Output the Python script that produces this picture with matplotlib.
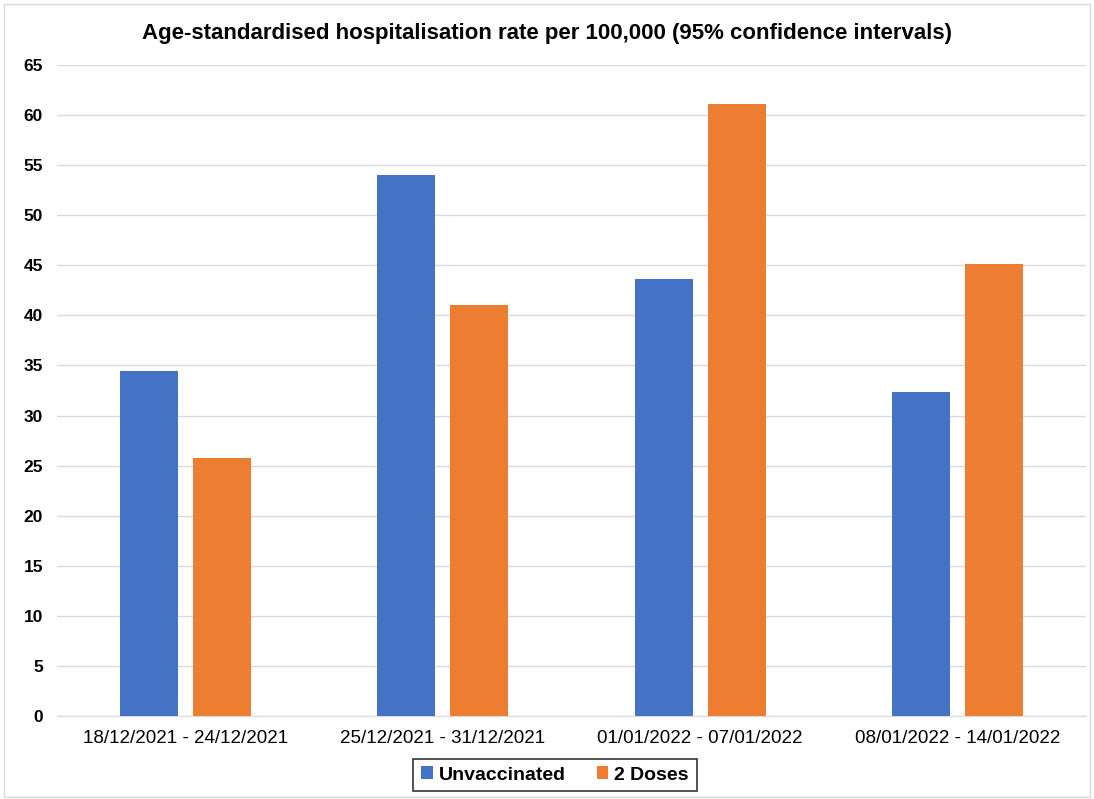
import numpy as np
import matplotlib
matplotlib.use('Agg')
import matplotlib.pyplot as plt
from matplotlib.patches import Rectangle

plt.rcParams['font.family'] = ['Liberation Sans', 'DejaVu Sans']

periods = ['18/12/2021 - 24/12/2021', '25/12/2021 - 31/12/2021',
           '01/01/2022 - 07/01/2022', '08/01/2022 - 14/01/2022']
unvaccinated = [34.4, 54.0, 43.6, 32.4]
two_doses = [25.8, 41.0, 61.1, 45.1]
y_ticks = list(range(0, 70, 5))

blue = '#4472C4'
orange = '#ED7D31'

fig = plt.figure(figsize=(10.94, 7.99), dpi=100)
ax = fig.add_axes([57 / 1094, 1 - 716 / 799, (1086 - 57) / 1094, (716 - 65) / 799])

x = np.arange(len(periods))
w = 0.225
off = 0.142
ax.bar(x - off, unvaccinated, w, color=blue, label='Unvaccinated', zorder=3)
ax.bar(x + off, two_doses, w, color=orange, label='2 Doses', zorder=3)

ax.set_xlim(-0.5, len(periods) - 0.5)
ax.set_ylim(0, 65)
ax.set_yticks(y_ticks)
ax.set_yticklabels([str(t) for t in y_ticks], fontsize=12.5, fontweight='bold')
ax.set_xticks(x)
ax.set_xticklabels(periods, fontsize=13.5)
ax.tick_params(axis='both', length=0)
ax.tick_params(axis='x', pad=10)
ax.tick_params(axis='y', pad=10)

ax.grid(axis='y', color='#D9D9D9', linewidth=1, zorder=0)
for s in ['top', 'right', 'left']:
    ax.spines[s].set_visible(False)
ax.spines['bottom'].set_color('#D9D9D9')

fig.text(0.5, 1 - 33 / 799, 'Age-standardised hospitalisation rate per 100,000 (95% confidence intervals)',
         ha='center', va='center', fontsize=16, fontweight='bold')

leg = fig.legend(loc='center', bbox_to_anchor=(555 / 1094, 1 - 775 / 799), ncol=2,
                 frameon=True, fancybox=False, handlelength=0.6, handleheight=0.6,
                 handletextpad=0.3, columnspacing=1.6, borderpad=0.4,
                 prop={'weight': 'bold', 'size': 14})
leg.get_frame().set_edgecolor('black')
leg.get_frame().set_linewidth(1.2)

fig.patches.append(Rectangle((0.004, 0.003), 0.992, 0.992, transform=fig.transFigure,
                             fill=False, edgecolor='#D9D9D9', linewidth=1))

fig.savefig('out.png', dpi=100)
